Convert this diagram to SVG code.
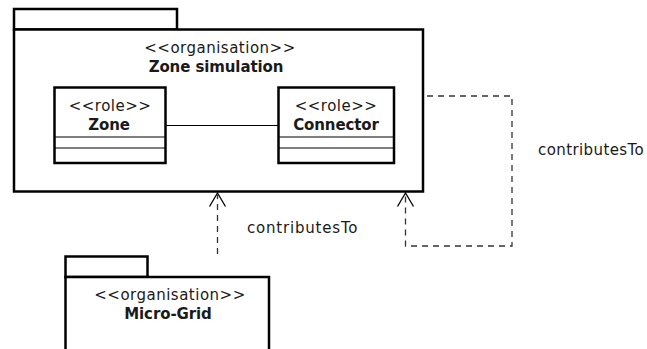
<svg xmlns="http://www.w3.org/2000/svg" width="647" height="349" viewBox="0 0 647 349">
<style>
.pkg{fill:#fff;stroke:#000;stroke-width:2.5}
.cls{fill:#fff;stroke:#000;stroke-width:2.5}
.sep{stroke:#000;stroke-width:1;fill:none}
.t{font-family:"DejaVu Sans",sans-serif;font-size:15px;fill:#1a1a1a;letter-spacing:0.5px;text-anchor:middle}
.b{font-weight:bold;letter-spacing:-0.1px}
.lbl{font-family:"DejaVu Sans",sans-serif;font-size:15px;fill:#1a1a1a;letter-spacing:0.8px}
.dash{fill:none;stroke:#333;stroke-width:1.3;stroke-dasharray:6 5}
.head{fill:none;stroke:#000;stroke-width:1.3}
</style>
<g id="zone-simulation">
<rect class="pkg" x="14" y="9" width="163" height="20.5"/>
<rect class="pkg" x="14" y="29.5" width="409" height="162"/>
<text class="t" x="220" y="53">&lt;&lt;organisation&gt;&gt;</text>
<text class="t b" x="216" y="72">Zone simulation</text>
</g>
<g id="zone">
<rect class="cls" x="54.5" y="87.5" width="111" height="75.5"/>
<line class="sep" x1="54.5" y1="137" x2="165.5" y2="137"/>
<line class="sep" x1="54.5" y1="148" x2="165.5" y2="148"/>
<text class="t" x="110" y="111">&lt;&lt;role&gt;&gt;</text>
<text class="t b" x="109" y="129.5">Zone</text>
</g>
<g id="connector">
<rect class="cls" x="278.5" y="87.5" width="115.5" height="75.5"/>
<line class="sep" x1="278.5" y1="137" x2="394" y2="137"/>
<line class="sep" x1="278.5" y1="148" x2="394" y2="148"/>
<text class="t" x="336" y="111">&lt;&lt;role&gt;&gt;</text>
<text class="t b" x="336" y="129.5">Connector</text>
</g>
<g id="micro-grid">
<rect class="pkg" x="65.5" y="256.5" width="82" height="20.5"/>
<rect class="pkg" x="65.5" y="277" width="203.5" height="90"/>
<text class="t" x="170" y="300">&lt;&lt;organisation&gt;&gt;</text>
<text class="t b" x="168" y="319">Micro-Grid</text>
</g>
<g id="connectors">
<line class="sep" x1="165.5" y1="125.5" x2="278.5" y2="125.5"/>
<line class="dash" x1="217.5" y1="254" x2="217.5" y2="195"/>
<polyline class="head" points="209.5,206.5 217.5,193 225.5,206.5"/>
<polyline class="dash" points="427,96 512,96 512,246 405.5,246 405.5,195"/>
<polyline class="head" points="397.5,206.5 405.5,193 413.5,206.5"/>
<text class="lbl" x="247" y="233">contributesTo</text>
<text class="lbl" x="538" y="155" style="letter-spacing:0.4px">contributesTo</text>
</g>
</svg>
